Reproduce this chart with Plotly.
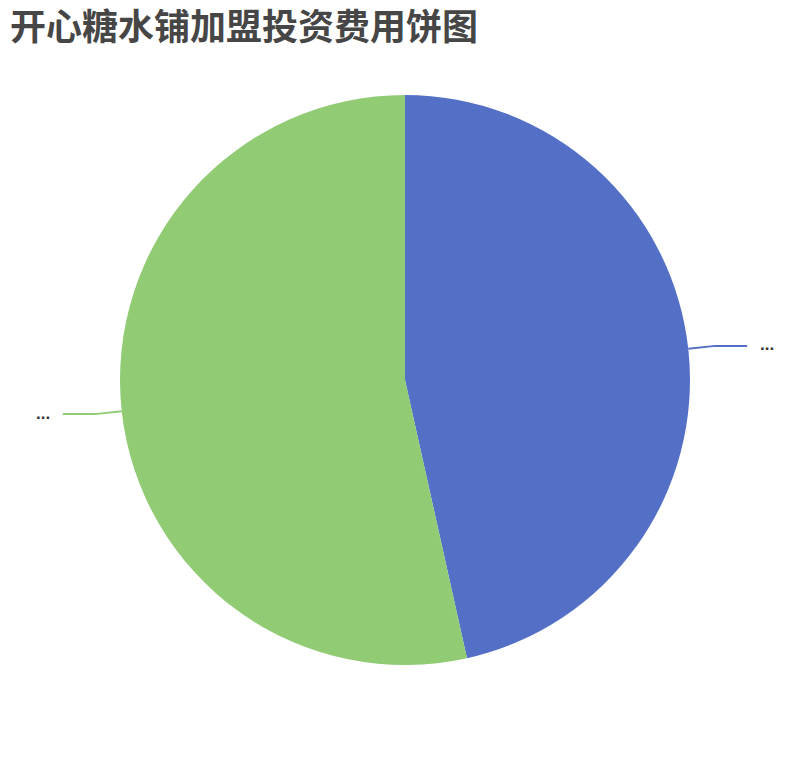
import math
import plotly.graph_objects as go

# data
categories = ["加盟费", "其他费用"]
values = [20, 23]
colors = ["#5470c6", "#91cc75"]
label_texts = ["...", "..."]

W, H = 810, 760
cx, cy, r = 405, 380, 285  # pie centre / radius in px

fig = go.Figure()
fig.add_trace(go.Pie(
    labels=categories,
    values=values,
    sort=False,
    direction="clockwise",
    rotation=0,
    marker=dict(colors=colors, line=dict(width=0)),
    textinfo="none",
    hoverinfo="label+value+percent",
    showlegend=False,
    domain=dict(x=[(cx - r) / W, (cx + r) / W], y=[1 - (cy + r) / H, 1 - (cy - r) / H]),
))

# leader lines + truncated labels, angles from the data
total = sum(values)
start = 0.0
shapes = []
annotations = []
px = lambda x: x / W
py = lambda y: 1 - y / H
for v, col, txt in zip(values, colors, label_texts):
    mid = start + v / total * 360 / 2
    start += v / total * 360
    a = math.radians(mid)
    sx, sy = cx + r * math.sin(a), cy - r * math.cos(a)
    ex, ey = cx + (r + 27) * math.sin(a), cy - (r + 27) * math.cos(a)
    side = 1 if math.sin(a) >= 0 else -1
    hx = ex + side * 32
    shapes.append(dict(type="path", xref="paper", yref="paper",
                       path=f"M {px(sx)},{py(sy)} L {px(ex)},{py(ey)} L {px(hx)},{py(ey)}",
                       line=dict(color=col, width=2)))
    annotations.append(dict(x=px(hx + side * 11), y=py(ey - 1), xref="paper", yref="paper",
                            text=f"<b>{txt}</b>", showarrow=False,
                            xanchor="left" if side > 0 else "right", yanchor="middle",
                            font=dict(size=17, color="#333333", family="Liberation Sans")))

fig.update_layout(
    width=W, height=H,
    margin=dict(l=0, r=0, t=0, b=0),
    paper_bgcolor="white",
    font=dict(family="Noto Sans CJK SC, sans-serif"),
    title=dict(text="<b>开心糖水铺加盟投资费用饼图</b>", x=10 / W, xanchor="left",
               y=1 - 27 / H, yanchor="middle",
               font=dict(size=36, color="#464646", family="Noto Sans CJK SC")),
    shapes=shapes,
    annotations=annotations,
)

fig.write_html("out.html", config={"displayModeBar": False},
               post_script="document.body.style.margin='0';")
